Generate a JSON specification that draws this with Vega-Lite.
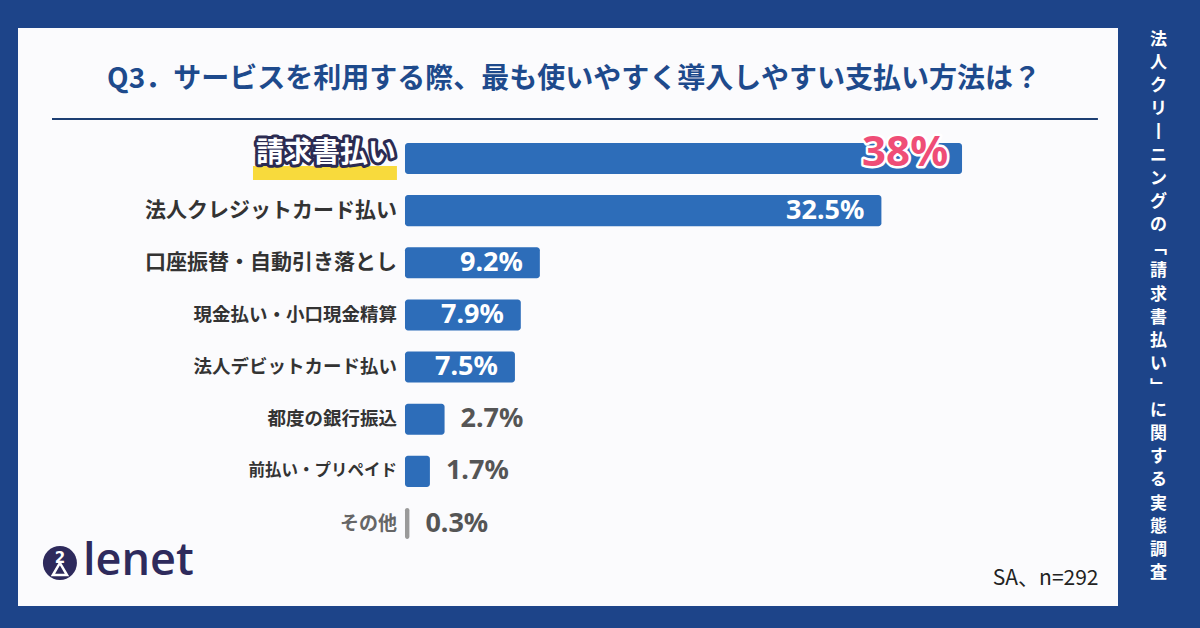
{
  "$schema": "https://vega.github.io/schema/vega-lite/v6.json",
  "width": 1100,
  "height": 578,
  "autosize": {"type": "none"},
  "padding": {"left": 18, "top": 28, "right": 82, "bottom": 22},
  "background": "#1d4489",
  "view": {"fill": "#fbfbfd", "stroke": null},
  "title": {
    "text": "Q3．サービスを利用する際、最も使いやすく導入しやすい支払い方法は？",
    "anchor": "middle",
    "frame": "group",
    "offset": -80,
    "dx": 6,
    "baseline": "middle",
    "font": "Noto Sans CJK JP",
    "fontSize": 28,
    "fontWeight": "bold",
    "color": "#1e4a8c"
  },
  "data": {
    "values": [
      {"label": "請求書払い", "value": 38},
      {"label": "法人クレジットカード払い", "value": 32.5},
      {"label": "口座振替・自動引き落とし", "value": 9.2},
      {"label": "現金払い・小口現金精算", "value": 7.9},
      {"label": "法人デビットカード払い", "value": 7.5},
      {"label": "都度の銀行振込", "value": 2.7},
      {"label": "前払い・プリペイド", "value": 1.7},
      {"label": "その他", "value": 0.3}
    ]
  },
  "transform": [{"calculate": "datum.value + '%'", "as": "pct"}],
  "encoding": {
    "y": {
      "field": "label",
      "type": "nominal",
      "sort": null,
      "scale": {
        "domain": ["請求書払い", "法人クレジットカード払い", "口座振替・自動引き落とし", "現金払い・小口現金精算", "法人デビットカード払い", "都度の銀行振込", "前払い・プリペイド", "その他"],
        "range": [104.4, 521.6],
        "paddingInner": 0.405,
        "paddingOuter": 0.2025
      },
      "axis": {
        "orient": "right",
        "labels": false,
        "ticks": false,
        "domain": false,
        "grid": false,
        "title": ["法","人","ク","リ","丨","ニ","ン","グ","の","﹁","請","求","書","払","い","﹂","に","関","す","る","実","態","調","査"],
        "titleAngle": 0,
        "titleColor": "#ffffff",
        "titleFont": "Noto Sans CJK JP",
        "titleFontSize": 17,
        "titleFontWeight": "bold",
        "titleLineHeight": 23.2,
        "titleX": 40,
        "titleY": 3,
        "titleAlign": "center",
        "titleBaseline": "top"
      }
    },
    "x": {
      "field": "value",
      "type": "quantitative",
      "scale": {"domain": [-26.4, 48.64], "nice": false, "zero": false},
      "axis": {
        "orient": "bottom",
        "labels": false,
        "ticks": false,
        "domain": false,
        "grid": false,
        "title": "SA、n=292",
        "titleX": 1080,
        "titleY": -28,
        "titleAlign": "right",
        "titleBaseline": "middle",
        "titleColor": "#222222",
        "titleFont": "Noto Sans CJK JP",
        "titleFontSize": 21,
        "titleFontWeight": "normal"
      }
    }
  },
  "layer": [
    {
      "mark": {"type": "bar", "cornerRadius": 3},
      "encoding": {
        "x2": {"datum": 0},
        "color": {"condition": {"test": "datum.label === 'その他'", "value": "#9a9a9a"}, "value": "#2d6db9"}
      }
    },
    {
      "transform": [{"filter": "datum.label === '請求書払い'"}],
      "mark": {"type": "bar", "height": 14, "yOffset": 14.5, "color": "#f8da3c"},
      "encoding": {"x": {"datum": -10.37}, "x2": {"datum": -0.55}}
    },
    {
      "transform": [{"filter": "datum.label !== '請求書払い'"}],
      "mark": {"type": "text", "align": "right", "baseline": "middle", "dx": -8, "font": "Noto Sans CJK JP", "fontWeight": "bold"},
      "encoding": {
        "x": {"datum": 0},
        "text": {"field": "label"},
        "size": {
          "condition": [
            {"test": "datum.label === '法人クレジットカード払い' || datum.label === '口座振替・自動引き落とし'", "value": 21},
            {"test": "datum.label === '前払い・プリペイド'", "value": 16.5},
            {"test": "datum.label === 'その他'", "value": 19}
          ],
          "value": 18.5
        },
        "color": {"condition": {"test": "datum.label === 'その他'", "value": "#666666"}, "value": "#333333"}
      }
    },
    {
      "transform": [{"filter": "datum.label === '請求書払い'"}],
      "mark": {"type": "text", "align": "right", "baseline": "middle", "dx": -9, "dy": -4, "font": "Noto Sans CJK JP", "fontWeight": "bold", "fontSize": 28, "fill": "#2b2b52", "stroke": "#2b2b52", "strokeWidth": 6, "strokeJoin": "round"},
      "encoding": {"x": {"datum": 0}, "text": {"field": "label"}}
    },
    {
      "transform": [{"filter": "datum.label === '請求書払い'"}],
      "mark": {"type": "text", "align": "right", "baseline": "middle", "dx": -9, "dy": -4, "font": "Noto Sans CJK JP", "fontWeight": "bold", "fontSize": 28, "fill": "#ffffff"},
      "encoding": {"x": {"datum": 0}, "text": {"field": "label"}}
    },
    {
      "transform": [{"filter": "datum.value > 5 && datum.label !== '請求書払い'"}],
      "mark": {"type": "text", "align": "right", "baseline": "middle", "dx": -17, "font": "Noto Sans", "fontWeight": "bold", "fontSize": 27, "fill": "#ffffff"},
      "encoding": {"text": {"field": "pct"}}
    },
    {
      "transform": [{"filter": "datum.value < 5"}],
      "mark": {"type": "text", "align": "left", "baseline": "middle", "dx": 16, "font": "Noto Sans", "fontWeight": "bold", "fontSize": 27, "fill": "#555555"},
      "encoding": {"text": {"field": "pct"}}
    },
    {
      "transform": [{"filter": "datum.label === '請求書払い'"}],
      "mark": {"type": "text", "align": "right", "baseline": "middle", "dx": -14, "dy": -5, "font": "Noto Sans", "fontWeight": "bold", "fontSize": 42, "fill": "#ffffff", "stroke": "#ffffff", "strokeWidth": 5, "strokeJoin": "round"},
      "encoding": {"text": {"field": "pct"}}
    },
    {
      "transform": [{"filter": "datum.label === '請求書払い'"}],
      "mark": {"type": "text", "align": "right", "baseline": "middle", "dx": -14, "dy": -5, "font": "Noto Sans", "fontWeight": "bold", "fontSize": 42, "fill": "#ef4d77"},
      "encoding": {"text": {"field": "pct"}}
    },
    {
      "transform": [{"filter": "datum.label === '請求書払い'"}],
      "mark": {"type": "rule", "color": "#1d3f73", "strokeWidth": 2},
      "encoding": {"x": {"datum": -24.08}, "x2": {"datum": 47.27}, "y": {"value": 91}}
    },
    {
      "transform": [{"filter": "datum.label === '請求書払い'"}],
      "mark": {"type": "point", "shape": "circle", "filled": true, "opacity": 1, "color": "#2e2a5c", "size": 1156},
      "encoding": {"x": {"datum": -23.54}, "y": {"value": 535}}
    },
    {
      "transform": [{"filter": "datum.label === '請求書払い'"}],
      "mark": {"type": "text", "align": "center", "baseline": "middle", "font": "DejaVu Sans", "fontSize": 15, "fontWeight": "bold", "fill": "#ffffff", "text": "2", "dy": -5},
      "encoding": {"x": {"datum": -23.54}, "y": {"value": 535}}
    },
    {
      "transform": [{"filter": "datum.label === '請求書払い'"}],
      "mark": {"type": "point", "shape": "triangle-up", "filled": false, "opacity": 1, "stroke": "#ffffff", "strokeWidth": 2.5, "size": 200, "yOffset": 0},
      "encoding": {"x": {"datum": -23.54}, "y": {"value": 541}}
    },
    {
      "transform": [{"filter": "datum.label === '請求書払い'"}],
      "mark": {"type": "text", "align": "left", "baseline": "middle", "font": "Open Sans", "fontSize": 45, "fontWeight": 600, "fill": "#2e2a5c", "text": "lenet"},
      "encoding": {"x": {"datum": -21.97}, "y": {"value": 533}}
    }
  ]
}
